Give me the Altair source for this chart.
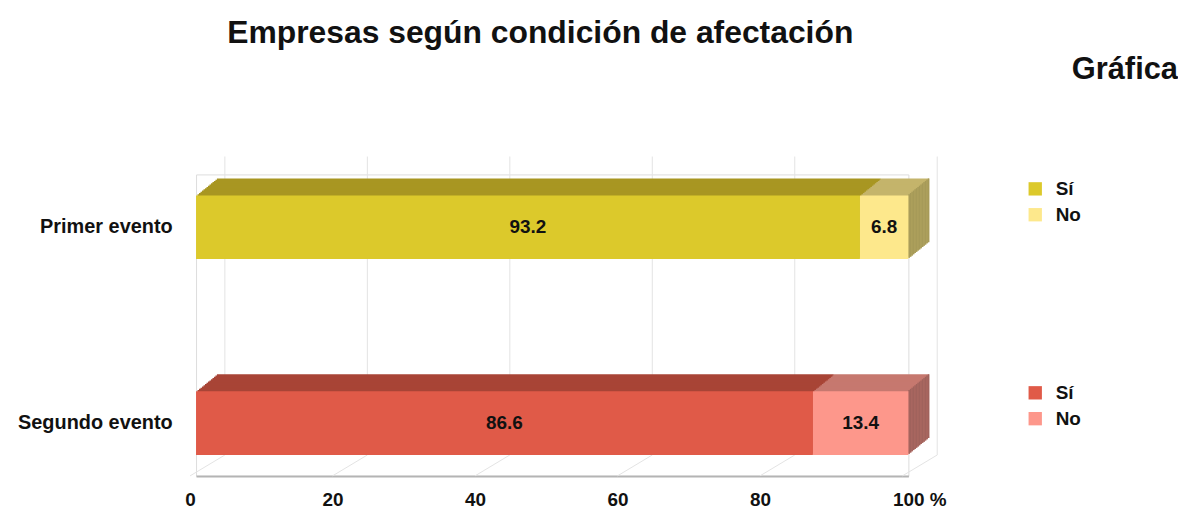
import altair as alt
import pandas as pd

eventos = ["Primer evento", "Segundo evento"]
respuestas = ["Sí", "No"]
si_vals = [93.2, 86.6]
no_vals = [6.8, 13.4]
ticks = [0, 20, 40, 60, 80, 100]

front_colors = {"Primer evento": ["#dcc92b", "#fde88c"], "Segundo evento": ["#e05a48", "#fd978b"]}
top_colors = {"Primer evento": ["#a89622", "#c4b46b"], "Segundo evento": ["#a84436", "#c6786f"]}
side_colors = {"Primer evento": "#a69a58", "Segundo evento": "#a0625c"}

FONT = "Liberation Sans"
N = 14
DX = 21.0 / N
DY = 17.0 / N

rows = []
for i, ev in enumerate(eventos):
    start = 0.0
    for j, (r, v) in enumerate(zip(respuestas, [si_vals[i], no_vals[i]])):
        rows.append(dict(evento=ev, resp=r, valor=v, start=start, end=start + v,
                         mid=start + v / 2, front=front_colors[ev][j], top=top_colors[ev][j],
                         side=side_colors[ev], last=(j == 1)))
        start += v
df = pd.DataFrame(rows)
tick_df = pd.DataFrame({"tick": ticks})

xscale = alt.Scale(domain=[0, 100], nice=False, zero=True)
xaxis = alt.Axis(values=ticks, title=None, grid=False, ticks=False, domainColor="#b4b4b4",
                 domainWidth=2, labelFontSize=19, labelFontWeight="bold", labelFont=FONT,
                 labelColor="#111111", labelPadding=15,
                 labelOffset={"condition": {"test": "datum.value == 100", "value": -16}, "value": -6},
                 labelAlign={"condition": {"test": "datum.value == 100", "value": "left"}, "value": "center"},
                 labelExpr="datum.value == 100 ? '100 %' : datum.label")
yscale = alt.Scale(domain=eventos, paddingInner=0.675, paddingOuter=0.107)
yaxis = alt.Axis(title=None, ticks=False, domain=False, grid=False, labelFontSize=20,
                 labelFontWeight="bold", labelFont=FONT, labelColor="#111111", labelPadding=24)


def X(f):
    return alt.X(f, type="quantitative", scale=xscale, axis=xaxis)


def Y():
    return alt.Y("evento:N", scale=yscale, axis=yaxis, sort=eventos)


base = alt.Chart(df)

grid = alt.Chart(tick_df).mark_rule(color="#e3e3e3", strokeWidth=1, xOffset=29).encode(
    x=X("tick"), y=alt.value(-18), y2=alt.value(282))
floor = alt.Chart(tick_df).mark_rule(color="#e3e3e3", strokeWidth=1, xOffset=-6, x2Offset=29).encode(
    x=X("tick"), x2="tick:Q", y=alt.value(303), y2=alt.value(282))

layers = [grid, floor]
for k in range(N, 0, -1):
    layers.append(base.mark_bar(xOffset=DX * k, x2Offset=DX * k, yOffset=-DY * k, y2Offset=-DY * k).encode(
        x=X("start"), x2="end:Q", y=Y(), fill=alt.Fill("top:N", scale=None)))
for k in range(N, 0, -1):
    layers.append(base.transform_filter("datum.last").mark_bar(
        xOffset=DX * (k - 1), x2Offset=DX * k, yOffset=-DY * k, y2Offset=-DY * k).encode(
        x=X("end"), x2="end:Q", y=Y(), fill=alt.Fill("side:N", scale=None)))

legend_y = {"Primer evento": 5, "Segundo evento": 210}
for ev in eventos:
    layers.append(base.transform_filter(alt.datum.evento == ev).mark_bar().encode(
        x=X("start"), x2="end:Q", y=Y(),
        color=alt.Color("resp:N", sort=respuestas,
                        scale=alt.Scale(domain=respuestas, range=front_colors[ev]),
                        legend=alt.Legend(title=None, orient="none", legendX=834, legendY=legend_y[ev],
                                          symbolType="square", symbolSize=180, symbolStrokeWidth=0,
                                          labelFontSize=19, labelFontWeight="bold", labelFont=FONT,
                                          labelColor="#111111", rowPadding=6, labelOffset=11))))

labels = base.mark_text(fontSize=19, fontWeight="bold", font=FONT, color="#111111").encode(
    x=X("mid"), y=Y(), text=alt.Text("valor:Q", format=".1f"))
layers.append(labels)

grafica = alt.Chart(pd.DataFrame({"t": ["Gráfica"]})).mark_text(
    fontSize=31, fontWeight="bold", font=FONT, color="#111111", align="right", baseline="middle").encode(
    x=alt.value(987), y=alt.value(-105), text="t:N")
layers.append(grafica)

chart = alt.layer(*layers).resolve_scale(color="independent").properties(
    width=716, height=303,
    padding={"left": 9, "top": 8, "right": 0, "bottom": 0},
    title=alt.TitleParams("Empresas según condición de afectación", fontSize=32, fontWeight="bold",
                          font=FONT, color="#111111", dx=-12)
).configure_view(stroke=None).configure(background="white")

chart.save("out.html", embed_options={"renderer": "svg", "actions": False})
